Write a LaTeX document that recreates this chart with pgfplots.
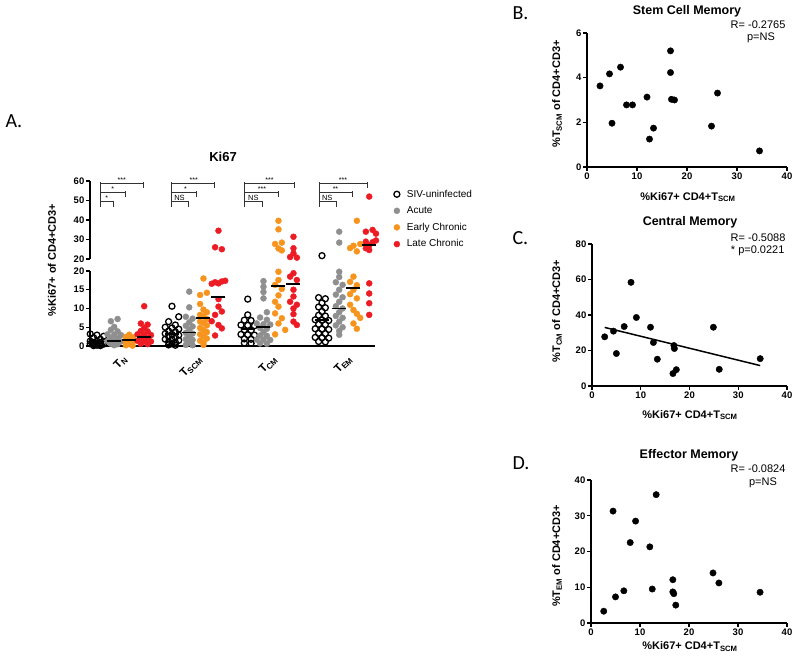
\documentclass[border=0pt]{standalone}
\usepackage{graphicx}
\usepackage{pgfplots}
\pgfplotsset{compat=1.18}
\usepackage{pgfplotstable}
\usepackage{fontspec}
\setmainfont{Liberation Sans}
\newfontfamily\calibri{Carlito}

\definecolor{pgray}{RGB}{143,143,143}
\definecolor{porange}{RGB}{247,148,30}
\definecolor{pred}{RGB}{237,28,36}
\newcommand{\fs}[1]{\fontsize{#1}{#1}\selectfont}
\newcommand{\rl}[1]{\rotatebox{45}{#1}}

\pgfplotsset{
  prism/.style={
    scale only axis, anchor=south west,
    axis lines*=left, enlargelimits=false,
    axis line style={line width=1.4pt, black},
    tick align=outside, major tick length=4pt,
    tick style={line width=1.2pt, black},
    xticklabel={\textbf{\pgfmathprintnumber{\tick}}},
    yticklabel={\textbf{\pgfmathprintnumber{\tick}}},
    tick label style={font=\bfseries\fs{9.5}, inner sep=1.5pt},
    /pgf/number format/assume math mode=true,
  },
  swarm/.style={only marks, mark size=3pt},
}

% ---------- Panel A data: c = category slot, j = swarm slot, y = %Ki67+
\pgfplotstableread{
c j y
-0.32 -2 3.2
-0.32 0 2.9
-0.32 2 2.6
-0.32 -1 2.2
-0.32 1 1.8
-0.32 -2 1.3
-0.32 0 1.3
-0.32 2 1.2
-0.32 -1 0.9
-0.32 1 0.9
-0.32 -2 0.6
-0.32 0 0.6
-0.32 2 0.5
-0.32 -1 0.4
-0.32 1 0.3
-0.32 0 0.2
-0.32 -1 0.1
-0.32 1 0.1
0.68 0 10.6
0.68 2 7.8
0.68 -1 6.5
0.68 1 5.6
0.68 -2 5.0
0.68 0 4.8
0.68 2 4.5
0.68 -1 4.0
0.68 1 3.8
0.68 -2 3.3
0.68 0 3.1
0.68 2 2.9
0.68 -1 2.5
0.68 1 2.3
0.68 -2 1.8
0.68 0 1.7
0.68 2 1.5
0.68 -1 1.1
0.68 1 1.0
0.68 0 0.6
0.68 -1 0.3
0.68 1 0.2
1.69 0 12.5
1.69 0 8.3
1.69 -1 6.9
1.69 1 6.8
1.69 -2 5.6
1.69 0 5.5
1.69 2 5.4
1.69 -1 4.3
1.69 1 4.2
1.69 -2 3.1
1.69 0 3.0
1.69 2 2.9
1.69 -1 1.9
1.69 1 1.8
1.69 -1 0.8
1.69 1 0.7
2.68 0 21.7
2.68 -1 12.9
2.68 1 12.6
2.68 0 11.5
2.68 -1 10.4
2.68 1 10.2
2.68 0 9.2
2.68 -1 8.2
2.68 1 8.0
2.68 -2 7.0
2.68 0 6.9
2.68 2 6.8
2.68 -1 5.8
2.68 1 5.7
2.68 -2 4.6
2.68 0 4.5
2.68 2 4.4
2.68 -1 3.4
2.68 1 3.3
2.68 -2 2.3
2.68 0 2.2
2.68 2 2.1
2.68 -1 1.2
2.68 1 1.1
}\blackpts

\pgfplotstableread{
c j y
-0.09 1 7.2
-0.09 -1 6.6
-0.09 0 5.1
-0.09 -1 4.3
-0.09 1 3.9
-0.09 -2 3.1
-0.09 0 3.0
-0.09 2 2.9
-0.09 -1 2.1
-0.09 1 2.0
-0.09 -2 1.3
-0.09 0 1.2
-0.09 2 1.2
-0.09 -1 0.6
-0.09 1 0.5
-0.09 0 0.2
0.91 0 14.5
0.91 0 10.3
0.91 -1 7.8
0.91 1 7.3
0.91 0 6.3
0.91 -1 5.4
0.91 1 5.2
0.91 0 4.3
0.91 -1 3.5
0.91 1 3.3
0.91 0 2.5
0.91 -1 1.8
0.91 1 1.6
0.91 0 0.9
0.91 -1 0.3
0.91 1 0.2
1.90 0 17.3
1.90 0 15.8
1.90 0 14.4
1.90 0 12.7
1.90 1 9.0
1.90 -1 7.6
1.90 1 7.0
1.90 -2 6.0
1.90 0 5.8
1.90 2 5.7
1.90 -1 4.8
1.90 1 4.6
1.90 0 3.7
1.90 -1 2.8
1.90 1 2.7
1.90 -2 1.7
1.90 0 1.7
1.90 2 1.6
1.90 -1 0.7
1.90 1 0.6
2.91 0 34.0
2.91 0 28.4
2.91 0 19.8
2.91 0 18.4
2.91 -1 17.0
2.91 1 16.3
2.91 0 15.0
2.91 -1 13.7
2.91 1 13.0
2.91 0 11.8
2.91 -1 10.6
2.91 1 10.0
2.91 0 9.0
2.91 -1 8.0
2.91 1 7.5
2.91 0 6.5
2.91 -1 5.5
2.91 1 5.0
2.91 0 4.0
2.91 0 3.0
}\graypts

\pgfplotstableread{
c j y
0.11 0 3.0
0.11 -1 2.4
0.11 1 2.3
0.11 0 1.7
0.11 -1 1.1
0.11 1 1.0
0.11 0 0.5
0.11 -1 0.2
0.11 1 0.1
1.10 0 18.0
1.10 1 14.2
1.10 -1 13.6
1.10 -1 11.2
1.10 0 9.7
1.10 1 9.0
1.10 -1 8.3
1.10 0 7.9
1.10 1 7.2
1.10 -1 6.5
1.10 0 6.1
1.10 1 5.5
1.10 -1 4.8
1.10 0 4.3
1.10 1 3.7
1.10 -1 3.1
1.10 0 2.6
1.10 1 2.0
1.10 -1 1.4
1.10 0 0.9
1.10 0 0.3
2.10 0 39.6
2.10 0 35.2
2.10 -1 27.7
2.10 1 28.4
2.10 0 25.4
2.10 1 24.4
2.10 0 19.8
2.10 0 17.6
2.10 -1 16.3
2.10 1 15.2
2.10 0 13.5
2.10 -1 11.8
2.10 0 10.5
2.10 -1 8.7
2.10 1 7.4
2.10 0 6.0
2.10 2 4.3
2.10 -1 3.1
3.10 1 39.6
3.10 2 27.7
3.10 -1 25.6
3.10 0 26.8
3.10 1 23.9
3.10 0 18.5
3.10 -1 17.1
3.10 1 16.2
3.10 0 15.0
3.10 -1 13.8
3.10 1 12.7
3.10 -1 11.0
3.10 0 9.6
3.10 1 8.6
3.10 2 7.5
3.10 0 6.0
3.10 1 4.6
}\orangepts

\pgfplotstableread{
c j y
0.31 0 10.6
0.31 -1 6.0
0.31 1 5.7
0.31 0 4.8
0.31 -1 4.0
0.31 1 3.9
0.31 -2 3.1
0.31 0 3.0
0.31 2 2.9
0.31 -1 2.2
0.31 1 2.1
0.31 -2 1.4
0.31 0 1.3
0.31 2 1.2
0.31 -1 0.6
0.31 1 0.5
1.30 0 34.5
1.30 -1 26.0
1.30 1 25.0
1.30 -1 17.0
1.30 1 17.2
1.30 2 17.4
1.30 -2 16.6
1.30 0 16.7
1.30 0 12.5
1.30 0 10.5
1.30 1 9.2
1.30 -1 8.3
1.30 -2 6.6
1.30 0 5.6
1.30 1 4.7
1.30 -1 2.8
2.30 0 31.4
2.30 0 25.5
2.30 0 22.9
2.30 -1 21.0
2.30 1 20.7
2.30 0 19.4
2.30 -1 18.5
2.30 1 17.6
2.30 0 15.0
2.30 0 13.2
2.30 -1 11.8
2.30 1 11.0
2.30 0 10.0
2.30 0 8.5
2.30 0 6.5
2.30 1 5.6
3.31 0 52.0
3.31 -1 34.0
3.31 1 34.9
3.31 2 33.0
3.31 -1 28.9
3.31 1 28.6
3.31 2 29.5
3.31 0 27.0
3.31 -1 25.5
3.31 0 24.6
3.31 0 16.7
3.31 0 14.0
3.31 0 11.4
3.31 0 8.3
}\redpts

\pgfplotstableread{
c y
-0.32 0.8
0.68 3.1
1.69 4.5
2.68 7.0
-0.09 1.4
0.91 3.6
1.90 5.0
2.91 10.0
0.11 1.6
1.10 7.4
2.10 16.0
3.10 15.5
0.31 2.5
1.30 13.0
2.30 16.5
3.31 27.0
}\medians

% ---------- Panels B-D data
\pgfplotstableread{
x y
2.6 3.63
4.5 4.17
5.0 1.96
6.7 4.47
7.9 2.78
9.1 2.78
12.0 3.13
12.5 1.25
13.3 1.74
16.7 5.20
16.7 4.23
16.9 3.03
17.5 3.00
24.9 1.83
26.1 3.31
34.5 0.72
}\scm

\pgfplotstableread{
x y
2.6 27.7
4.4 30.9
5.0 18.3
6.6 33.5
8.0 58.4
9.1 38.6
12.0 33.1
12.6 24.5
13.4 15.1
16.6 7.0
16.8 22.8
16.9 21.1
17.3 9.2
24.9 33.1
26.1 9.4
34.5 15.4
}\cm

\pgfplotstableread{
x y
2.6 3.3
4.5 31.3
5.0 7.3
6.7 9.0
8.0 22.5
9.1 28.5
12.0 21.3
12.5 9.5
13.3 35.9
16.7 12.1
16.7 8.7
16.9 8.2
17.3 5.0
24.9 14.0
26.1 11.2
34.5 8.6
}\em

\begin{document}
\begin{tikzpicture}
\path[use as bounding box] (0,0) rectangle (800pt,660pt);

% ================= Panel A, lower part (0-20)
\begin{axis}[prism, at={(90pt,314pt)}, width=285pt, height=75pt,
  xmin=-0.413, xmax=3.387, ymin=0, ymax=20, clip=false,
  ytick={0,5,10,15,20},
  xtick={0,1,2,3},
  xticklabels={\rl{T\textsubscript{N}},\rl{T\textsubscript{SCM}},\rl{T\textsubscript{CM}},\rl{T\textsubscript{EM}}},
  xtick style={draw=none},
  x tick label style={font=\bfseries\fs{11.5}, anchor=north east, inner sep=0pt, xshift=8pt, yshift=-4pt},
]
\addplot[swarm, mark=o, black, mark options={line width=1.3pt}, restrict y to domain=0:20]
  table[x expr=\thisrow{c}+0.045*\thisrow{j}, y=y] {\blackpts};
\addplot[swarm, mark=*, pgray, restrict y to domain=0:20]
  table[x expr=\thisrow{c}+0.045*\thisrow{j}, y=y] {\graypts};
\addplot[swarm, mark=*, porange, restrict y to domain=0:20]
  table[x expr=\thisrow{c}+0.045*\thisrow{j}, y=y] {\orangepts};
\addplot[swarm, mark=*, pred, restrict y to domain=0:20]
  table[x expr=\thisrow{c}+0.045*\thisrow{j}, y=y] {\redpts};
\addplot[only marks, mark=-, mark size=7pt, mark options={line width=1.8pt}, black, restrict y to domain=0:20]
  table[x=c, y=y] {\medians};
\end{axis}

% ================= Panel A, upper part (20-60)
\begin{axis}[prism, at={(90pt,401pt)}, width=285pt, height=78pt,
  xmin=-0.413, xmax=3.387, ymin=20, ymax=60, clip=false,
  axis x line=none, axis y line*=left,
  ytick={20,30,40,50,60},
  legend style={at={(axis description cs:1.055,0.94)}, anchor=north west,
    draw=none, fill=none, font=\fs{10}, row sep=4pt, column sep=5pt},
  legend cell align=left,
  legend image code/.code={\draw[#1] plot coordinates {(0pt,0pt)};},
]
\addplot[swarm, mark=o, black, mark options={line width=1.3pt}, restrict y to domain=20:100]
  table[x expr=\thisrow{c}+0.045*\thisrow{j}, y=y] {\blackpts};
\addlegendentry{SIV-uninfected}
\addplot[swarm, mark=*, pgray, restrict y to domain=20:100]
  table[x expr=\thisrow{c}+0.045*\thisrow{j}, y=y] {\graypts};
\addlegendentry{Acute}
\addplot[swarm, mark=*, porange, restrict y to domain=20:100]
  table[x expr=\thisrow{c}+0.045*\thisrow{j}, y=y] {\orangepts};
\addlegendentry{Early Chronic}
\addplot[swarm, mark=*, pred, restrict y to domain=20:100]
  table[x expr=\thisrow{c}+0.045*\thisrow{j}, y=y] {\redpts};
\addlegendentry{Late Chronic}
\addplot[only marks, mark=-, mark size=7pt, mark options={line width=1.8pt}, black, restrict y to domain=20:100, forget plot]
  table[x=c, y=y] {\medians};

% significance brackets
\pgfplotsset{brk/.style={black!80, line width=0.7pt, mark=|, mark size=3pt, mark options={yshift=-2pt, solid}, forget plot}}
% TN
\addplot[black!80, line width=0.7pt, forget plot] coordinates {(-0.28,59.4) (-0.28,47.2)};
\addplot[brk] coordinates {(-0.28,49.4) (-0.107,49.4)};
\addplot[brk] coordinates {(-0.28,54.2) (0.053,54.2)};
\addplot[brk] coordinates {(-0.28,58.8) (0.293,58.8)};
\node[font=\fs{7}, above, inner sep=0.5pt] at (axis cs:-0.19,49.4) {*};
\node[font=\fs{7}, above, inner sep=0.5pt] at (axis cs:-0.11,54.2) {*};
\node[font=\fs{7}, above, inner sep=0.5pt] at (axis cs:0.01,58.8) {***};
% TSCM
\addplot[black!80, line width=0.7pt, forget plot] coordinates {(0.667,59.4) (0.667,47.2)};
\addplot[brk] coordinates {(0.667,49.4) (0.897,49.4)};
\addplot[brk] coordinates {(0.667,54.2) (1.009,54.2)};
\addplot[brk] coordinates {(0.667,58.8) (1.244,58.8)};
\node[font=\fs{7.5}, above, inner sep=0.5pt] at (axis cs:0.78,49.4) {NS};
\node[font=\fs{7}, above, inner sep=0.5pt] at (axis cs:0.86,54.2) {*};
\node[font=\fs{7}, above, inner sep=0.5pt] at (axis cs:0.97,58.8) {***};
% TCM
\addplot[black!80, line width=0.7pt, forget plot] coordinates {(1.649,59.4) (1.649,47.2)};
\addplot[brk] coordinates {(1.649,49.4) (1.88,49.4)};
\addplot[brk] coordinates {(1.649,54.2) (2.103,54.2)};
\addplot[brk] coordinates {(1.649,58.8) (2.316,58.8)};
\node[font=\fs{7.5}, above, inner sep=0.5pt] at (axis cs:1.765,49.4) {NS};
\node[font=\fs{7}, above, inner sep=0.5pt] at (axis cs:1.88,54.2) {***};
\node[font=\fs{7}, above, inner sep=0.5pt] at (axis cs:1.98,58.8) {***};
% TEM
\addplot[black!80, line width=0.7pt, forget plot] coordinates {(2.64,59.4) (2.64,47.2)};
\addplot[brk] coordinates {(2.64,49.4) (2.867,49.4)};
\addplot[brk] coordinates {(2.64,54.2) (3.089,54.2)};
\addplot[brk] coordinates {(2.64,58.8) (3.289,58.8)};
\node[font=\fs{7.5}, above, inner sep=0.5pt] at (axis cs:2.75,49.4) {NS};
\node[font=\fs{7}, above, inner sep=0.5pt] at (axis cs:2.86,54.2) {**};
\node[font=\fs{7}, above, inner sep=0.5pt] at (axis cs:2.96,58.8) {***};
\end{axis}

\node[font=\calibri\fs{20}, anchor=west] at (2pt,538.5pt) {A.};
\node[font=\bfseries\fs{13}] at (223pt,503pt) {Ki67};
\node[font=\bfseries\fs{11}, rotate=90] at (52pt,400pt) {\%Ki67+ of CD4+CD3+};

% ================= Panel B
\begin{axis}[prism, at={(587pt,493pt)}, width=200pt, height=134pt,
  xmin=0, xmax=40, ymin=0, ymax=6, clip=false,
  xtick={0,10,20,30,40}, ytick={0,2,4,6}]
\addplot[only marks, mark=*, mark size=3.2pt, black] table[x=x, y=y] {\scm};
\end{axis}
\node[font=\calibri\fs{20}, anchor=west] at (509pt,646.5pt) {B.};
\node[font=\bfseries\fs{12.5}] at (687pt,648.5pt) {Stem Cell Memory};
\node[font=\fs{11}, anchor=east] at (789pt,635pt) {R= -0.2765};
\node[font=\fs{11}] at (761pt,622.5pt) {p=NS};
\node[font=\bfseries\fs{11}, rotate=90] at (557pt,566pt) {\%T\textsubscript{SCM} of CD4+CD3+};
\node[font=\bfseries\fs{11}] at (688pt,463pt) {\%Ki67+ CD4+T\textsubscript{SCM}};

% ================= Panel C
\begin{axis}[prism, at={(592pt,274pt)}, width=195pt, height=142pt,
  xmin=0, xmax=40, ymin=0, ymax=80, clip=false,
  xtick={0,10,20,30,40}, ytick={0,20,40,60,80}]
\addplot[only marks, mark=*, mark size=3.2pt, black] table[x=x, y=y] {\cm};
\addplot[black, line width=1.5pt, no marks] coordinates {(2.6,33.0) (34.5,11.5)};
\end{axis}
\node[font=\calibri\fs{20}, anchor=west] at (509pt,421.5pt) {C.};
\node[font=\bfseries\fs{12.5}] at (690pt,438pt) {Central Memory};
\node[font=\fs{11}, anchor=east] at (789pt,422.5pt) {R= -0.5088};
\node[font=\fs{11}, anchor=east] at (788pt,409.5pt) {* p=0.0221};
\node[font=\bfseries\fs{11}, rotate=90] at (557pt,349pt) {\%T\textsubscript{CM} of CD4+CD3+};
\node[font=\bfseries\fs{11}] at (690pt,245pt) {\%Ki67+ CD4+T\textsubscript{SCM}};

% ================= Panel D
\begin{axis}[prism, at={(591pt,37pt)}, width=196pt, height=143pt,
  xmin=0, xmax=40, ymin=0, ymax=40, clip=false,
  xtick={0,10,20,30,40}, ytick={0,10,20,30,40}]
\addplot[only marks, mark=*, mark size=3.2pt, black] table[x=x, y=y] {\em};
\end{axis}
\node[font=\calibri\fs{20}, anchor=west] at (509pt,196.5pt) {D.};
\node[font=\bfseries\fs{12.5}] at (689pt,205pt) {Effector Memory};
\node[font=\fs{11}, anchor=east] at (789pt,191pt) {R= -0.0824};
\node[font=\fs{11}] at (763pt,177.5pt) {p=NS};
\node[font=\bfseries\fs{11}, rotate=90] at (557pt,104pt) {\%T\textsubscript{EM} of CD4+CD3+};
\node[font=\bfseries\fs{11}] at (690pt,13.5pt) {\%Ki67+ CD4+T\textsubscript{SCM}};
\end{tikzpicture}
\end{document}
